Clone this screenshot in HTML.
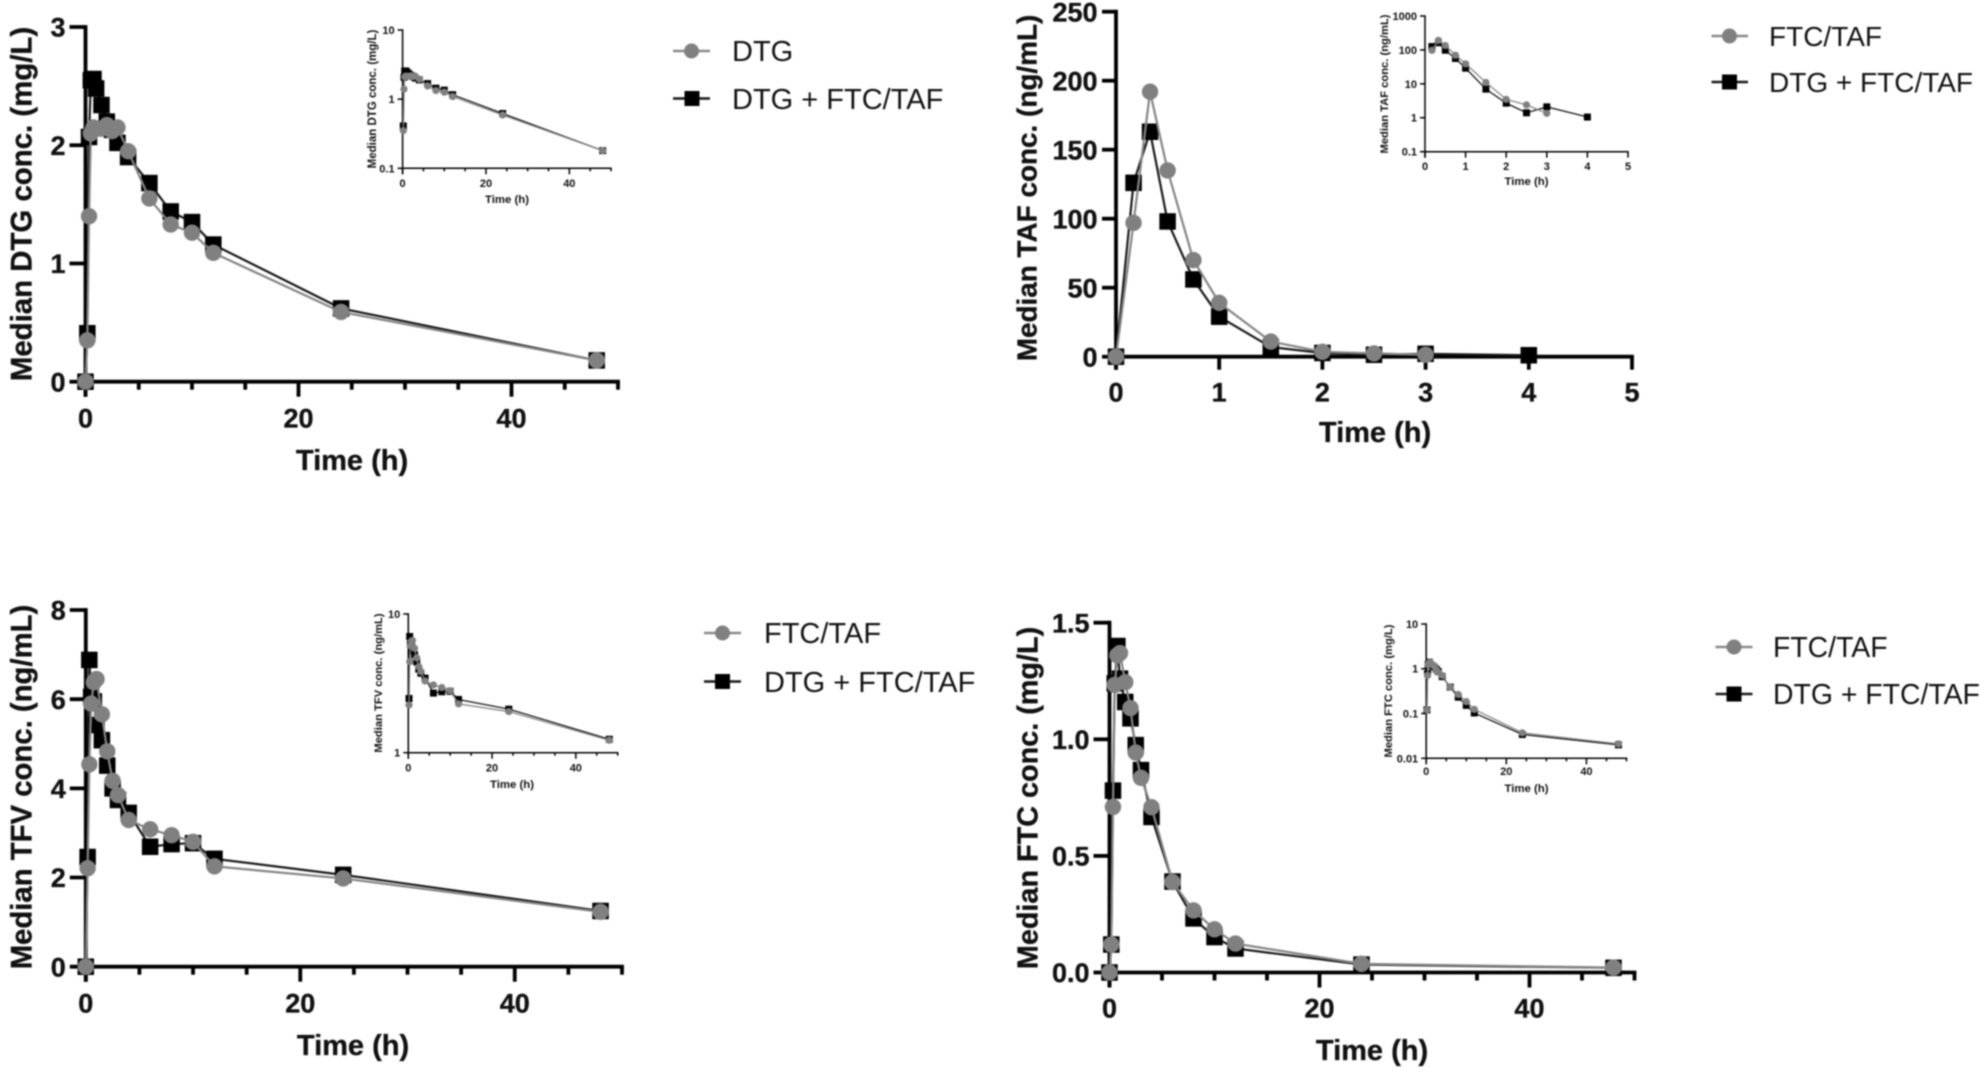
<!DOCTYPE html>
<html lang="en">
<head>
<meta charset="utf-8">
<title>Median concentration-time profiles</title>
<style>
html,body{margin:0;padding:0;background:#fff;}
body{width:1986px;height:1074px;overflow:hidden;}
svg{display:block;filter:blur(0.7px);font-family:"Liberation Sans",Arial,sans-serif;}
.title{font-weight:700;fill:#111;text-anchor:middle;}
.xt{font-weight:700;fill:#111;text-anchor:middle;}
.leg{font-weight:400;fill:#111;}
g[id$="-main"] text{stroke:#111;stroke-width:.35px;}
</style>
</head>
<body>
<svg id="figure" width="1986" height="1074" viewBox="0 0 1986 1074" xmlns="http://www.w3.org/2000/svg">
  <g id="dtg">
    <g id="dtg-main">
      <text class="title" font-size="29.4" dy="0.36em" transform="translate(21,204) rotate(-90)">Median DTG conc. (mg/L)</text>
      <text class="xt" font-size="29" x="352" y="470">Time (h)</text>
    </g>
    <g id="dtg-inset">
      <text class="title" font-size="11.5" dy="0.36em" transform="translate(372,99) rotate(-90)">Median DTG conc. (mg/L)</text>
      <text class="xt" font-size="11.4" x="507" y="203">Time (h)</text>
    </g>
    <g>
      <g>
        <line x1="673" y1="51" x2="710" y2="51" stroke="#8a8a8a" stroke-width="2.5"/>
        <circle cx="691.5" cy="51" r="7.5" fill="#808080"/>
        <text class="leg" font-size="29" x="732" y="61">DTG</text>
      </g>
      <g>
        <line x1="673" y1="98.5" x2="710" y2="98.5" stroke="#1a1a1a" stroke-width="2.5"/>
        <rect x="684.5" y="91" width="15" height="15" fill="#000"/>
        <text class="leg" font-size="29" x="732" y="109">DTG + FTC/TAF</text>
      </g>
    </g>
  </g>

  <g id="taf">
    <g id="taf-main">
      <text class="title" font-size="27.9" dy="0.36em" transform="translate(1026.5,188) rotate(-90)">Median TAF conc. (ng/mL)</text>
      <text class="xt" font-size="29" x="1375" y="442">Time (h)</text>
    </g>
    <g id="taf-inset">
      <text class="title" font-size="11.2" dy="0.36em" transform="translate(1384,84) rotate(-90)">Median TAF conc. (ng/mL)</text>
      <text class="xt" font-size="11.4" x="1526.5" y="185">Time (h)</text>
    </g>
    <g>
      <g>
        <line x1="1711.5" y1="36" x2="1748" y2="36" stroke="#8a8a8a" stroke-width="2.5"/>
        <circle cx="1729.5" cy="36" r="7.5" fill="#808080"/>
        <text class="leg" font-size="28" x="1769" y="46">FTC/TAF</text>
      </g>
      <g>
        <line x1="1711.5" y1="82" x2="1748" y2="82" stroke="#1a1a1a" stroke-width="2.5"/>
        <rect x="1722" y="74.5" width="15" height="15" fill="#000"/>
        <text class="leg" font-size="28" x="1769" y="92">DTG + FTC/TAF</text>
      </g>
    </g>
  </g>

  <g id="tfv">
    <g id="tfv-main">
      <text class="title" font-size="29.3" dy="0.36em" transform="translate(21,787) rotate(-90)">Median TFV conc. (ng/mL)</text>
      <text class="xt" font-size="29" x="353" y="1055">Time (h)</text>
    </g>
    <g id="tfv-inset">
      <text class="title" font-size="11.2" dy="0.36em" transform="translate(378,683) rotate(-90)">Median TFV conc. (ng/mL)</text>
      <text class="xt" font-size="11.4" x="512" y="788">Time (h)</text>
    </g>
    <g>
      <g>
        <line x1="704" y1="633" x2="741" y2="633" stroke="#8a8a8a" stroke-width="2.5"/>
        <circle cx="722.5" cy="633" r="7.5" fill="#808080"/>
        <text class="leg" font-size="29" x="764" y="643">FTC/TAF</text>
      </g>
      <g>
        <line x1="704" y1="681.5" x2="741" y2="681.5" stroke="#1a1a1a" stroke-width="2.5"/>
        <rect x="715" y="674" width="15" height="15" fill="#000"/>
        <text class="leg" font-size="29" x="764" y="692">DTG + FTC/TAF</text>
      </g>
    </g>
  </g>

  <g id="ftc">
    <g id="ftc-main">
      <text class="title" font-size="28.8" dy="0.36em" transform="translate(1027,798) rotate(-90)">Median FTC conc. (mg/L)</text>
      <text class="xt" font-size="29" x="1372" y="1060">Time (h)</text>
    </g>
    <g id="ftc-inset">
      <text class="title" font-size="11.2" dy="0.36em" transform="translate(1388,691) rotate(-90)">Median FTC conc. (mg/L)</text>
      <text class="xt" font-size="11.4" x="1526.5" y="792">Time (h)</text>
    </g>
    <g>
      <g>
        <line x1="1715.5" y1="647" x2="1752.5" y2="647" stroke="#8a8a8a" stroke-width="2.5"/>
        <circle cx="1734" cy="647" r="7.5" fill="#808080"/>
        <text class="leg" font-size="28.4" x="1773" y="657">FTC/TAF</text>
      </g>
      <g>
        <line x1="1715.5" y1="694" x2="1752.5" y2="694" stroke="#1a1a1a" stroke-width="2.5"/>
        <rect x="1726.5" y="686.5" width="15" height="15" fill="#000"/>
        <text class="leg" font-size="28.4" x="1773" y="704">DTG + FTC/TAF</text>
      </g>
    </g>
  </g>
</svg>

<script>
// ---- chart data ----
const timesLong = [0, 0.17, 0.33, 0.5, 0.75, 1, 1.5, 2, 2.5, 3, 4, 6, 8, 10, 12, 24, 48];
const timesTafSolo = [0, 0.17, 0.33, 0.5, 0.75, 1, 1.5, 2, 2.5, 3];
const timesTafCombo = [0, 0.17, 0.33, 0.5, 0.75, 1, 1.5, 2, 2.5, 3, 4];

const dtgSolo = [0, 0.35, 1.4, 2.1, 2.15, 2.14, 2.14, 2.17, 2.12, 2.15, 1.95, 1.55, 1.33, 1.26, 1.09, 0.59, 0.18];
const dtgCombo = [0, 0.41, 2.07, 2.55, 2.56, 2.48, 2.34, 2.2, 2.13, 2.02, 1.9, 1.68, 1.44, 1.35, 1.16, 0.62, 0.18];

const tafSolo = [0, 97, 192, 135, 70, 39, 11, 3.5, 2.4, 1.35];
const tafCombo = [0, 126, 163, 98, 56, 29, 7, 2.7, 1.4, 2.1, 1.05];

const tfvSolo = [0, 2.21, 4.54, 5.9, 6.38, 6.45, 5.66, 4.83, 4.17, 3.85, 3.29, 3.08, 2.95, 2.8, 2.25, 1.98, 1.23];
const tfvCombo = [0, 2.46, 6.88, 6.05, 5.95, 5.42, 5.08, 4.51, 4.0, 3.74, 3.45, 2.69, 2.75, 2.77, 2.42, 2.06, 1.25];

const ftcSolo = [0, 0.12, 0.71, 1.233, 1.36, 1.37, 1.245, 1.134, 0.943, 0.835, 0.709, 0.388, 0.266, 0.185, 0.124, 0.037, 0.021];
const ftcCombo = [0, 0.12, 0.78, 1.24, 1.4, 1.26, 1.16, 1.09, 0.975, 0.868, 0.667, 0.39, 0.232, 0.152, 0.103, 0.034, 0.02];

const xTicksLong = [0, 20, 40];
const xMinorLong = [5, 10, 15, 25, 30, 35, 45, 50];
const xTicksShort = [0, 1, 2, 3, 4, 5];
const noMinor = [];

const dtgTicks = [0, 1, 2, 3];
const tafTicks = [0, 50, 100, 150, 200, 250];
const tfvTicks = [0, 2, 4, 6, 8];
const ftcTicks = [0, 0.5, 1, 1.5];
const ftcTickLabels = ['0.0', '0.5', '1.0', '1.5'];

const dtgLogTicks = [0.1, 1, 10];
const tafLogTicks = [0.1, 1, 10, 100, 1000];
const tfvLogTicks = [1, 10];
const ftcLogTicks = [0.01, 0.1, 1, 10];

// ---- helpers ----
const NS = 'http://www.w3.org/2000/svg';
function mk(parent, tag, props) {
  const el = document.createElementNS(NS, tag);
  for (const k in props) el.setAttribute(k, props[k]);
  parent.appendChild(el);
  return el;
}
function linearScale(d0, d1, r0, r1) {
  return function (v) { return r0 + (v - d0) / (d1 - d0) * (r1 - r0); };
}
function logScale(d0, d1, r0, r1) {
  const a = Math.log10(d0), b = Math.log10(d1);
  return function (v) { return r0 + (Math.log10(v) - a) / (b - a) * (r1 - r0); };
}

function drawAxes(g, s, xs, ys, st, xTicks, xMinor, yTicks, yLabels) {
  const top = ys(yTicks[yTicks.length - 1]);
  const bottom = s.yBottom;
  const left = s.xLeft;
  const right = s.xRight;

  const yAxis = mk(g, 'line', {x1: left, x2: left, y1: top - st.w / 2, y2: bottom + st.major, stroke: '#000', 'stroke-width': st.w});
  
  

  const xAxis = mk(g, 'line', {x1: left, x2: right + st.w / 2, y1: bottom, y2: bottom, stroke: '#000', 'stroke-width': st.w});
  
  

  xTicks.forEach(function (t) {
    const tick = mk(g, 'line', {x1: xs(t), x2: xs(t), y1: bottom, y2: bottom + st.major, stroke: '#000', 'stroke-width': st.w});
    
    
    const lab = mk(g, 'text', {x: xs(t), y: s.xLabelY, 'font-size': st.font, 'font-weight': 700, 'text-anchor': 'middle', fill: '#111', dy: '0.36em'});
    lab.textContent = String(t);
    
    
  });
  xMinor.forEach(function (t) {
    const tick = mk(g, 'line', {x1: xs(t), x2: xs(t), y1: bottom, y2: bottom + st.minor, stroke: '#000', 'stroke-width': st.w});
    
    
  });
  yTicks.forEach(function (v, i) {
    const y = ys(v);
    const tick = mk(g, 'line', {x1: left - st.ytick, x2: left, y1: y, y2: y, stroke: '#000', 'stroke-width': st.w});
    
    
    const lab = mk(g, 'text', {x: left - st.ylab, y: y, 'font-size': st.font, 'font-weight': 700, 'text-anchor': 'end', fill: '#111', dy: '0.36em'});
    lab.textContent = yLabels ? yLabels[i] : String(v);
    
    
  });
}

function drawCombo(g, times, vals, xs, ys, st, isLog) {
  const pts = [];
  times.forEach(function (t, i) {
    if (!isLog || vals[i] > 0) pts.push([xs(t), ys(vals[i])]);
  });
  const line = mk(g, 'polyline', {points: pts.map(function (p) { return p.join(','); }).join(' '), fill: 'none', stroke: '#1a1a1a', 'stroke-width': st.line});
  
  
  pts.forEach(function (p) {
    const m = mk(g, 'rect', {x: p[0] - st.sq / 2, y: p[1] - st.sq / 2, width: st.sq, height: st.sq, fill: '#000'});
    
    
  });
}
function drawSolo(g, times, vals, xs, ys, st, isLog) {
  const pts = [];
  times.forEach(function (t, i) {
    if (!isLog || vals[i] > 0) pts.push([xs(t), ys(vals[i])]);
  });
  const line = mk(g, 'polyline', {points: pts.map(function (p) { return p.join(','); }).join(' '), fill: 'none', stroke: '#858585', 'stroke-width': st.line});
  
  
  pts.forEach(function (p) {
    const m = mk(g, 'circle', {cx: p[0], cy: p[1], r: st.r, fill: '#808080'});
    
    
  });
}

const mainStyle = {w: 3.8, major: 15, minor: 8, ytick: 16, ylab: 20, font: 27, line: 2.2, sq: 16.5, r: 8.2};
const tafStyle = {w: 3.8, major: 13, minor: 8, ytick: 14, ylab: 18.5, font: 27, line: 2.2, sq: 16.5, r: 8.2};
const insetStyle = {w: 1.5, major: 6, minor: 3, ytick: 5, ylab: 8, font: 11, line: 1.3, sq: 7, r: 3.6};

function chart(id, s, st, isLog, xDom, yDom, xTicks, xMinor, yTicks, yLabels, tSolo, vSolo, tCombo, vCombo) {
  const g = document.getElementById(id);
  const xs = linearScale(xDom[0], xDom[1], s.xLeft, s.xRight);
  const ys = isLog ? logScale(yDom[0], yDom[1], s.yBottom, s.yTop) : linearScale(yDom[0], yDom[1], s.yBottom, s.yTop);
  drawAxes(g, s, xs, ys, st, xTicks, xMinor, yTicks, yLabels);
  drawCombo(g, tCombo, vCombo, xs, ys, st, isLog);
  drawSolo(g, tSolo, vSolo, xs, ys, st, isLog);
}

chart('dtg-main', {xLeft: 85.5, xRight: 618, yBottom: 381.7, yTop: 27, xLabelY: 418}, mainStyle, false, [0, 50], [0, 3], xTicksLong, xMinorLong, dtgTicks, null, timesLong, dtgSolo, timesLong, dtgCombo);
chart('dtg-inset', {xLeft: 402.6, xRight: 611, yBottom: 168.3, yTop: 30, xLabelY: 183}, insetStyle, true, [0, 50], [0.1, 10], xTicksLong, xMinorLong, dtgLogTicks, null, timesLong, dtgSolo, timesLong, dtgCombo);

chart('taf-main', {xLeft: 1116, xRight: 1632, yBottom: 356.7, yTop: 11.7, xLabelY: 392}, tafStyle, false, [0, 5], [0, 250], xTicksShort, noMinor, tafTicks, null, timesTafSolo, tafSolo, timesTafCombo, tafCombo);
chart('taf-inset', {xLeft: 1425, xRight: 1628, yBottom: 151.7, yTop: 16, xLabelY: 166}, insetStyle, true, [0, 5], [0.1, 1000], xTicksShort, noMinor, tafLogTicks, null, timesTafSolo, tafSolo, timesTafCombo, tafCombo);

chart('tfv-main', {xLeft: 85.8, xRight: 622, yBottom: 966.7, yTop: 610, xLabelY: 1003}, mainStyle, false, [0, 50], [0, 8], xTicksLong, xMinorLong, tfvTicks, null, timesLong, tfvSolo, timesLong, tfvCombo);
chart('tfv-inset', {xLeft: 408.3, xRight: 617.7, yBottom: 752.7, yTop: 614, xLabelY: 767.7}, insetStyle, true, [0, 50], [1, 10], xTicksLong, xMinorLong, tfvLogTicks, null, timesLong, tfvSolo, timesLong, tfvCombo);

chart('ftc-main', {xLeft: 1109.5, xRight: 1634.5, yBottom: 972.5, yTop: 622.7, xLabelY: 1008}, mainStyle, false, [0, 50], [0, 1.5], xTicksLong, xMinorLong, ftcTicks, ftcTickLabels, timesLong, ftcSolo, timesLong, ftcCombo);
chart('ftc-inset', {xLeft: 1426.2, xRight: 1626.5, yBottom: 758.3, yTop: 624, xLabelY: 771}, insetStyle, true, [0, 50], [0.01, 10], xTicksLong, xMinorLong, ftcLogTicks, null, timesLong, ftcSolo, timesLong, ftcCombo);
</script>
</body>
</html>
